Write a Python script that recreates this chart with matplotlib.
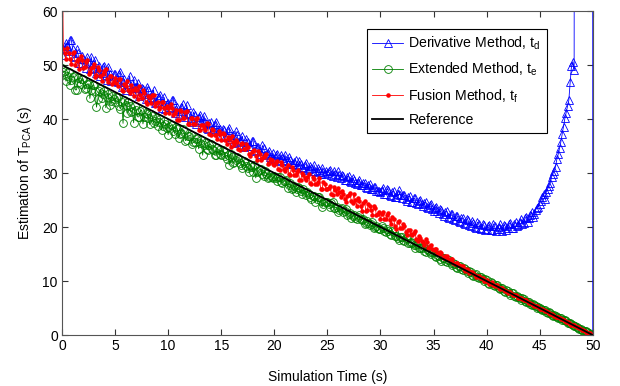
import numpy as np
import matplotlib
matplotlib.use("Agg")
import matplotlib.pyplot as plt

plt.rcParams['font.family'] = ['Liberation Sans', 'DejaVu Sans']
plt.rcParams['mathtext.fontset'] = 'custom'
plt.rcParams['mathtext.rm'] = 'Liberation Sans'
plt.rcParams['mathtext.it'] = 'Liberation Sans'
plt.rcParams['mathtext.default'] = 'regular'

# sample times (s): samples every 0.125 s from 0 to 50
time_s = np.linspace(0, 50, 401)

# values read at t = 0, 0.25, 0.5, ... 50
derivative_a = [
    51.8, 53.1, 53.6, 54.6, 53.0, 51.4, 52.2, 50.3, 51.1, 49.4, 50.4, 51.5, 49.5, 48.5, 49.9, 48.5, 49.8, 47.3, 48.3, 47.2,
    48.4, 46.9, 48.7, 46.9, 45.4, 46.8, 45.7, 47.2, 45.7, 44.3, 45.8, 44.7, 46.0, 43.8, 44.6, 43.0, 43.8, 44.4, 42.8, 41.9,
    43.0, 42.0, 43.6, 41.9, 40.8, 42.3, 40.9, 42.6, 40.9, 39.4, 40.7, 39.8, 40.8, 38.8, 39.5, 38.2, 39.4, 38.1, 39.4, 37.9,
    36.9, 37.9, 36.9, 38.3, 36.7, 35.6, 37.0, 35.9, 36.8, 35.0, 35.8, 35.0, 36.0, 34.3, 34.9, 33.6, 34.6, 33.6, 34.0, 32.7,
    32.6, 33.5, 32.4, 32.8, 33.4, 31.8, 32.4, 31.6, 32.5, 31.2, 31.7, 30.9, 31.8, 30.7, 31.0, 31.5, 30.1, 30.6, 31.0, 29.9,
    30.0, 30.6, 29.4, 29.9, 30.3, 29.0, 29.5, 28.7, 29.5, 28.4, 28.7, 27.9, 28.8, 27.8, 28.1, 27.2, 28.0, 27.0, 27.4, 26.6,
    26.4, 27.3, 26.2, 26.9, 25.8, 26.6, 25.5, 26.8, 25.4, 25.9, 24.8, 25.7, 24.6, 25.3, 24.2, 25.0, 23.9, 24.6, 23.5, 24.3,
    23.0, 23.8, 22.6, 23.2, 22.1, 22.9, 21.7, 22.4, 21.3, 22.0, 20.9, 21.6, 20.5, 21.3, 20.2, 20.8, 19.8, 20.6, 19.6, 20.3,
    19.7, 20.4, 19.4, 20.1, 19.6, 20.5, 19.3, 20.2, 19.8, 20.7, 19.9, 20.9, 20.3, 21.4, 20.8, 21.9, 21.6, 22.8, 22.4, 23.6,
    24.3, 25.6, 25.2, 27.0, 28.2, 29.9, 31.2, 33.5, 35.8, 38.6, 41.2, 43.5, 49.8, 49.0, 250.0, 900.0, 1500.0, 2500.0, 3000.0, 4000.0,
    0.3,
]
# values read at t = 0.125, 0.375, ... 49.875
derivative_b = [
    52.9, 54.1, 52.6, 54.7, 51.7, 52.9, 50.3, 51.7, 50.3, 51.5, 49.2, 50.1, 50.9, 48.8, 48.0, 49.6, 48.2, 49.7, 47.1, 48.3,
    47.0, 48.3, 45.9, 47.4, 46.4, 48.0, 45.2, 46.0, 46.7, 44.6, 45.5, 43.7, 45.4, 44.0, 45.4, 43.2, 44.1, 42.1, 44.0, 42.7,
    42.3, 43.5, 41.1, 42.2, 41.5, 42.8, 40.3, 41.1, 40.1, 41.3, 39.0, 40.4, 39.4, 40.6, 38.4, 39.3, 37.7, 39.1, 37.8, 38.1,
    38.2, 36.6, 38.0, 36.3, 37.0, 37.7, 35.7, 36.1, 34.8, 36.3, 35.0, 35.9, 34.0, 34.9, 34.1, 35.1, 33.3, 33.7, 32.9, 33.7,
    33.3, 32.3, 33.4, 32.2, 32.5, 32.9, 31.6, 32.1, 31.4, 32.2, 31.1, 31.5, 30.5, 31.3, 30.4, 30.4, 30.9, 29.8, 30.2, 30.4,
    30.3, 29.6, 30.4, 29.3, 29.6, 29.7, 28.8, 29.3, 28.5, 29.0, 28.2, 28.4, 27.8, 28.1, 27.5, 27.7, 27.1, 27.4, 26.7, 26.7,
    26.9, 26.1, 27.0, 25.9, 26.5, 25.6, 26.2, 25.9, 26.0, 25.1, 25.6, 24.7, 25.3, 24.4, 24.9, 24.3, 24.5, 23.8, 24.1, 23.4,
    23.5, 22.9, 23.4, 22.4, 22.8, 21.9, 22.5, 21.5, 22.1, 21.2, 21.7, 20.8, 21.4, 20.4, 21.1, 20.0, 20.9, 19.9, 20.5, 19.5,
    20.2, 19.5, 20.6, 19.3, 20.0, 19.7, 20.4, 19.5, 20.6, 19.8, 20.6, 20.1, 21.0, 20.6, 21.6, 21.0, 22.3, 21.8, 23.2, 23.8,
    24.9, 26.2, 26.5, 27.6, 29.3, 30.4, 32.6, 34.6, 37.2, 40.1, 42.4, 46.8, 50.6, 400.0, 600.0, 1200.0, 2000.0, 2800.0, 3500.0, 5000.0,
]

extended_a = [
    49.5, 48.9, 47.9, 46.3, 47.8, 45.4, 47.6, 46.5, 47.4, 45.7, 46.5, 45.4, 46.3, 42.2, 45.2, 43.9, 45.2, 44.1, 42.6, 44.2,
    43.1, 44.1, 41.9, 39.2, 42.6, 43.2, 41.3, 39.3, 41.7, 40.4, 41.7, 40.4, 41.0, 39.0, 40.6, 39.7, 38.7, 40.0, 38.7, 39.0,
    37.1, 38.8, 37.8, 38.6, 36.5, 37.4, 37.7, 36.2, 36.9, 35.4, 35.7, 36.5, 35.5, 33.3, 35.5, 34.3, 35.4, 34.3, 33.3, 34.3,
    33.4, 33.9, 32.6, 31.5, 33.0, 32.0, 32.9, 31.8, 30.9, 31.8, 31.0, 31.5, 30.2, 29.1, 30.4, 30.7, 29.4, 29.9, 29.2, 29.3,
    29.4, 28.5, 29.2, 28.2, 28.5, 27.3, 28.1, 27.3, 26.4, 27.4, 26.7, 27.0, 25.9, 26.2, 25.2, 25.8, 25.1, 25.5, 23.7, 24.6,
    24.6, 23.8, 24.7, 23.6, 22.8, 23.4, 22.7, 23.3, 22.5, 21.7, 22.3, 21.5, 22.3, 21.3, 20.6, 21.1, 20.4, 20.9, 20.0, 19.9,
    19.7, 19.9, 19.0, 19.3, 18.6, 19.0, 18.3, 17.6, 18.2, 17.4, 17.9, 17.0, 17.1, 16.2, 16.8, 16.1, 16.5, 15.4, 15.7, 15.0,
    15.3, 14.5, 14.6, 13.8, 14.2, 13.6, 13.9, 12.9, 13.1, 12.5, 12.8, 12.1, 12.2, 11.4, 11.6, 11.0, 11.3, 10.6, 10.7, 10.0,
    10.2, 9.4, 9.6, 9.0, 9.3, 8.6, 8.7, 7.9, 8.1, 7.5, 7.7, 7.1, 7.1, 6.5, 6.7, 6.1, 6.1, 5.5, 5.6, 5.1,
    5.1, 4.6, 4.6, 4.1, 4.1, 3.6, 3.6, 3.1, 3.1, 2.7, 2.6, 2.2, 2.0, 1.7, 1.5, 1.2, 1.0, 0.7, 0.5, 0.2,
    0.0,
]
extended_b = [
    48.7, 47.0, 48.7, 47.2, 48.0, 45.4, 46.9, 47.5, 45.5, 46.5, 43.8, 46.3, 45.2, 43.7, 45.5, 44.6, 42.1, 44.6, 43.4, 43.7,
    44.1, 42.4, 43.1, 43.5, 41.1, 42.5, 41.5, 42.4, 40.4, 41.4, 39.1, 41.2, 40.1, 41.0, 39.2, 40.1, 39.4, 38.0, 39.6, 38.4,
    38.5, 38.9, 37.3, 38.1, 37.3, 38.1, 36.0, 36.9, 37.1, 35.7, 36.3, 34.5, 36.2, 35.1, 34.4, 35.2, 34.5, 33.3, 34.6, 33.5,
    34.2, 33.1, 33.4, 33.6, 31.9, 32.4, 32.6, 31.5, 32.3, 31.3, 30.2, 31.2, 31.4, 30.2, 30.6, 29.9, 30.3, 29.1, 29.7, 29.1,
    29.0, 29.2, 28.3, 28.5, 28.7, 27.7, 27.1, 27.6, 27.1, 27.3, 26.2, 26.5, 26.5, 25.6, 25.7, 24.6, 25.6, 24.8, 24.3, 24.6,
    24.3, 24.4, 23.5, 23.7, 23.2, 23.5, 22.9, 22.2, 22.6, 22.0, 21.6, 21.9, 21.4, 21.5, 20.8, 20.7, 20.6, 19.9, 20.2, 19.6,
    20.2, 19.2, 19.6, 18.8, 19.3, 18.4, 17.9, 18.2, 17.6, 17.9, 17.0, 17.3, 16.7, 16.6, 16.1, 16.2, 15.5, 15.9, 15.3, 15.3,
    14.7, 14.9, 14.1, 14.3, 13.7, 13.9, 13.3, 13.3, 12.6, 12.8, 12.2, 12.4, 11.8, 11.8, 11.1, 11.2, 10.7, 10.8, 10.3, 10.3,
    9.7, 9.8, 9.3, 9.3, 8.7, 8.7, 8.2, 8.3, 7.8, 7.7, 7.2, 7.2, 6.8, 6.8, 6.3, 6.2, 5.7, 5.7, 5.3, 5.2,
    4.8, 4.7, 4.3, 4.2, 3.8, 3.7, 3.3, 3.2, 2.8, 2.7, 2.3, 2.2, 1.8, 1.7, 1.3, 1.2, 0.8, 0.7, 0.3, 0.1,
]

fusion_a = [
    75.0, 52.3, 53.1, 51.2, 52.2, 50.0, 51.1, 51.7, 49.5, 50.5, 48.4, 49.5, 50.1, 48.2, 49.0, 47.1, 48.9, 47.5, 47.9, 46.4,
    47.6, 46.1, 47.5, 45.2, 46.1, 45.4, 46.3, 44.3, 45.3, 46.1, 43.9, 44.8, 42.7, 43.8, 44.4, 42.5, 43.2, 42.3, 43.2, 41.2,
    42.0, 42.7, 40.8, 41.7, 39.8, 41.4, 40.2, 41.5, 39.1, 40.1, 39.0, 40.1, 37.9, 38.9, 37.9, 39.0, 37.0, 38.0, 37.1, 37.8,
    36.2, 37.2, 35.4, 36.3, 36.8, 35.1, 35.7, 34.3, 35.6, 34.4, 34.8, 33.1, 34.0, 33.2, 34.0, 32.4, 32.9, 33.5, 31.8, 32.4,
    31.5, 32.2, 30.5, 31.4, 30.4, 31.5, 29.7, 30.5, 29.7, 30.6, 28.8, 29.6, 28.8, 29.8, 28.0, 28.9, 28.0, 29.0, 27.1, 28.0,
    27.0, 27.6, 26.0, 26.8, 27.3, 25.5, 26.2, 24.6, 26.0, 24.9, 26.1, 23.9, 24.8, 23.0, 24.9, 23.2, 23.9, 22.2, 23.6, 22.5,
    21.4, 22.8, 21.5, 22.6, 20.6, 21.4, 19.7, 21.2, 19.8, 20.2, 18.5, 19.5, 18.5, 19.3, 17.4, 18.0, 17.2, 17.7, 16.2, 16.6,
    15.8, 16.0, 15.0, 15.2, 14.3, 14.6, 13.9, 14.0, 13.1, 13.3, 12.7, 12.7, 11.9, 12.1, 11.6, 11.5, 10.8, 11.0, 10.6, 10.1,
    10.2, 9.5, 9.8, 9.1, 9.2, 8.5, 8.8, 8.2, 7.8, 7.9, 7.4, 7.4, 6.8, 6.8, 6.4, 6.4, 5.9, 5.8, 5.4, 5.3,
    4.9, 4.8, 4.4, 4.3, 3.9, 3.8, 3.4, 3.3, 2.9, 2.8, 2.4, 2.3, 1.9, 1.8, 1.4, 1.3, 0.9, 0.8, 0.4, 0.3,
    0.1,
]
fusion_b = [
    52.9, 51.2, 52.2, 50.1, 52.4, 50.7, 49.2, 51.0, 49.7, 51.0, 48.7, 49.6, 47.8, 49.6, 48.0, 48.4, 49.2, 46.8, 48.0, 47.0,
    46.6, 47.5, 45.3, 46.5, 47.0, 44.8, 45.4, 45.8, 43.7, 44.5, 45.3, 43.2, 44.3, 43.0, 44.4, 42.9, 41.8, 43.2, 42.0, 42.4,
    41.1, 42.0, 41.2, 39.8, 41.6, 40.1, 41.3, 39.0, 40.1, 39.0, 40.0, 37.9, 38.9, 38.3, 39.3, 37.2, 38.2, 37.1, 36.3, 37.2,
    37.4, 36.1, 36.6, 34.9, 35.8, 36.2, 34.4, 35.4, 34.4, 35.4, 33.6, 33.9, 34.3, 32.5, 33.5, 32.7, 33.4, 31.6, 32.6, 31.6,
    32.1, 30.7, 32.0, 30.7, 30.9, 29.9, 31.2, 29.7, 30.2, 28.7, 30.0, 29.0, 29.3, 28.1, 29.3, 28.0, 28.3, 27.0, 28.4, 27.1,
    27.3, 26.2, 27.4, 26.2, 26.4, 26.7, 25.2, 25.7, 26.3, 24.5, 25.0, 25.3, 23.9, 24.4, 23.0, 24.2, 23.1, 23.9, 22.2, 22.8,
    22.5, 21.4, 22.2, 21.3, 21.9, 20.1, 20.9, 19.8, 20.5, 19.0, 19.5, 18.7, 18.9, 17.7, 18.3, 17.5, 16.7, 17.2, 16.5, 16.0,
    16.0, 15.2, 15.4, 14.5, 14.7, 14.1, 14.0, 13.3, 13.4, 12.9, 12.8, 12.2, 12.2, 11.5, 11.6, 11.1, 10.9, 10.5, 10.6, 10.1,
    9.9, 9.7, 9.3, 9.2, 8.8, 8.7, 8.3, 8.1, 7.9, 7.6, 7.4, 7.2, 6.9, 6.6, 6.4, 6.2, 5.9, 5.6, 5.4, 5.2,
    4.9, 4.6, 4.4, 4.1, 3.9, 3.6, 3.4, 3.1, 2.9, 2.6, 2.4, 2.1, 1.9, 1.6, 1.4, 1.1, 0.9, 0.6, 0.4, 0.1,
]

reference_t = [0, 50]
reference_y = [50, 0]

x_ticks = [0, 5, 10, 15, 20, 25, 30, 35, 40, 45, 50]
y_ticks = [0, 10, 20, 30, 40, 50, 60]


def merge(a, b):
    out = np.empty(len(a) + len(b))
    out[0::2] = a
    out[1::2] = b
    return out


derivative = merge(derivative_a, derivative_b)
extended = merge(extended_a, extended_b)
fusion = merge(fusion_a, fusion_b)

fig = plt.figure(figsize=(6.2, 3.86), dpi=100)
ax = fig.add_axes([0.100, 0.132, 0.856, 0.8395])

ax.plot(time_s, derivative, color='#0000ff', lw=0.6, marker='^', ms=5.4,
        mfc='none', mec='#0000ff', mew=0.6, label='Derivative Method, $t_d$')
ax.plot(time_s, extended, color='#008000', lw=0.6, marker='o', ms=5.6,
        mfc='none', mec='#008000', mew=0.6, label='Extended Method, $t_e$')
ax.plot(time_s, fusion, color='#ff0000', lw=0.6, marker='.', ms=4.5,
        mfc='#ff0000', mec='#ff0000', label='Fusion Method, $t_f$')
ax.plot(reference_t, reference_y, color='black', lw=1.3, label='Reference')

ax.set_xlim(0, 50)
ax.set_ylim(0, 60)
ax.set_xticks(x_ticks)
ax.set_yticks(y_ticks)
ax.tick_params(direction='in', length=4, width=0.8, top=True, right=True,
               labelsize=10, pad=3, colors='#333333', labelcolor='black')
for s in ax.spines.values():
    s.set_color('#555555')
    s.set_linewidth(0.8)

ax.set_xlabel('Simulation Time (s)', fontsize=10, labelpad=12)
ax.set_ylabel('Estimation of T$_{PCA}$ (s)', fontsize=10, labelpad=6)

leg = ax.legend(loc='upper left', bbox_to_anchor=(0.574, 0.944), borderaxespad=0,
                fontsize=10.2, fancybox=False, framealpha=1, edgecolor='black',
                handlelength=2.2, handletextpad=0.35, labelspacing=0.62,
                borderpad=0.4)
leg.get_frame().set_linewidth(0.8)

fig.savefig('out.png', dpi=100)
